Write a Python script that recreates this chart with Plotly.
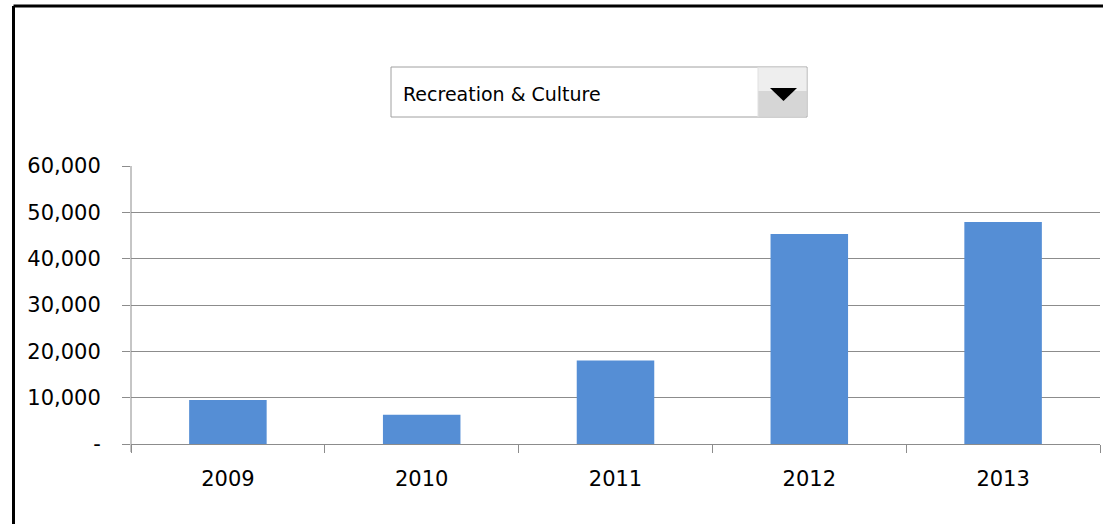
import plotly.graph_objects as go

years = ["2009", "2010", "2011", "2012", "2013"]
values = [9500, 6300, 18000, 45300, 47900]
y_ticks = [0, 10000, 20000, 30000, 40000, 50000, 60000]
y_labels = ["-", "10,000", "20,000", "30,000", "40,000", "50,000", "60,000"]
selected = "Recreation & Culture"

OFF = 0
W, H = 1103, 524
L, R, T, B = 131 - OFF, W - (1100 - OFF), 166 - OFF, H - (444 - OFF)
pw, ph = W - L - R, H - T - B

def px(x):
    return (x - OFF - L) / pw

def py(y):
    return (H - B - (y - OFF)) / ph

FONT = "DejaVu Sans"

fig = go.Figure(go.Bar(x=years, y=values, marker=dict(color="#558ED5", line=dict(width=0)), width=0.4))

shapes = [
    # outer frame
    dict(type="line", xref="paper", yref="paper", x0=px(13.5), x1=px(1120), y0=py(6), y1=py(6), line=dict(color="black", width=3)),
    dict(type="line", xref="paper", yref="paper", x0=px(13.5), x1=px(13.5), y0=py(6), y1=py(540), line=dict(color="black", width=3)),
    # y axis line extending below
    dict(type="line", xref="paper", yref="paper", x0=0, x1=0, y0=py(452), y1=1, line=dict(color="#8c8c8c", width=1)),
    # dropdown box
    dict(type="rect", xref="paper", yref="paper", x0=px(391), x1=px(807), y0=py(117), y1=py(67), fillcolor="white", line=dict(color="#a0a0a0", width=1)),
    dict(type="rect", xref="paper", yref="paper", x0=px(758), x1=px(806.5), y0=py(116.5), y1=py(91), fillcolor="#d6d6d6", line=dict(width=0)),
    dict(type="rect", xref="paper", yref="paper", x0=px(758), x1=px(806.5), y0=py(91), y1=py(67.5), fillcolor="#eeeeee", line=dict(width=0)),
    dict(type="line", xref="paper", yref="paper", x0=px(758), x1=px(758), y0=py(117), y1=py(67), line=dict(color="#e0e0e0", width=1)),
    dict(type="path", xref="paper", yref="paper",
         path=f"M {px(770)} {py(88)} L {px(797)} {py(88)} L {px(783.5)} {py(101)} Z",
         fillcolor="black", line=dict(width=0)),
]

fig.update_layout(
    width=W, height=H,
    margin=dict(l=L, r=R, t=T, b=B, pad=0),
    paper_bgcolor="white", plot_bgcolor="white",
    showlegend=False,
    font=dict(family=FONT, color="black", size=21),
    xaxis=dict(
        type="category", showgrid=False, showline=True, linecolor="#8c8c8c", linewidth=1,
        ticks="outside", tickson="boundaries", ticklen=8, tickcolor="#8c8c8c",
        tickfont=dict(size=21, family=FONT), ticklabelstandoff=16, fixedrange=True,
    ),
    yaxis=dict(
        range=[0, 60000], tickvals=y_ticks, ticktext=y_labels,
        showgrid=True, gridcolor="#8c8c8c", gridwidth=1, zeroline=False,
        showline=False, ticks="outside", ticklen=8, tickcolor="#8c8c8c",
        tickfont=dict(size=21, family=FONT), ticklabelstandoff=17, fixedrange=True,
    ),
    shapes=shapes,
    annotations=[
        dict(text=selected, xref="paper", yref="paper", x=px(401), y=py(94), xanchor="left", yanchor="middle",
             showarrow=False, font=dict(size=19, family=FONT, color="black")),
    ],
)

fig.write_html(
    "out.html",
    config={"displayModeBar": False},
    post_script="document.body.style.margin='0';document.body.style.overflow='hidden';",
)
